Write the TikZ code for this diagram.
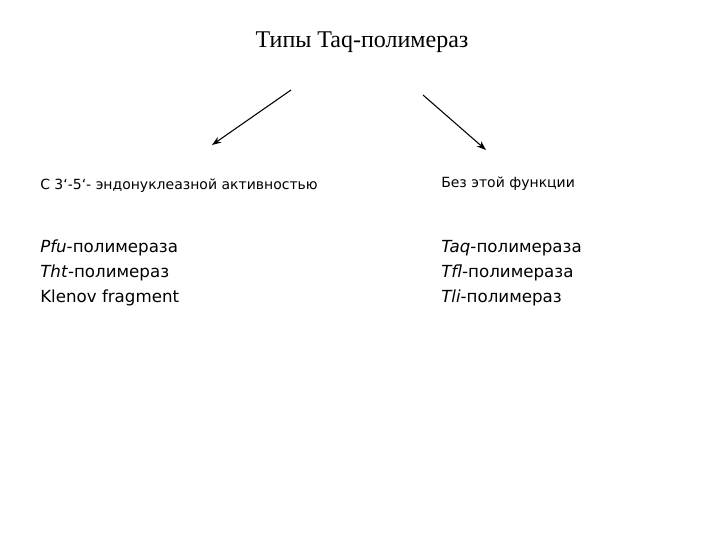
\documentclass[tikz,border=0pt]{standalone}
\usepackage{fontspec}
\usetikzlibrary{arrows.meta}
\setmainfont{DejaVu Sans}
\newfontfamily\titlefont{Liberation Serif}
\begin{document}
\begin{tikzpicture}[x=0.75pt,y=-0.75pt,
  hd/.style={anchor=west,inner sep=0pt,font=\fontsize{10.5}{12}\selectfont},
  it/.style={anchor=west,inner sep=0pt,font=\fontsize{12.5}{14}\selectfont},
  arr/.style={-{Stealth[length=7pt,width=5pt]},line width=0.8pt}]
\useasboundingbox[fill=white] (0,0) rectangle (720,540);
\node[inner sep=0pt,font=\titlefont\fontsize{18}{20}\selectfont] (t) at (362,42) {Типы Taq-полимераз};
\coordinate (a1) at (291,90); \coordinate (a2) at (212,145);
\coordinate (b1) at (423,95); \coordinate (b2) at (486,150);
\draw[arr] (a1) -- (a2);
\draw[arr] (b1) -- (b2);
\node[hd] (l0) at (40,186) {С 3‘-5‘- эндонуклеазной активностью};
\node[hd] (r0) at (441,184) {Без этой функции};
\node[it] (l1) at (40,248) {\textit{Pfu}-полимераза};
\node[it] (l2) at (40,273) {\textit{Tht}-полимераз};
\node[it] (l3) at (40,298) {Klenov fragment};
\node[it] (r1) at (441,248) {\textit{Taq}-полимераза};
\node[it] (r2) at (441,273) {\textit{Tfl}-полимераза};
\node[it] (r3) at (441,298) {\textit{Tli}-полимераз};
\end{tikzpicture}
\end{document}
